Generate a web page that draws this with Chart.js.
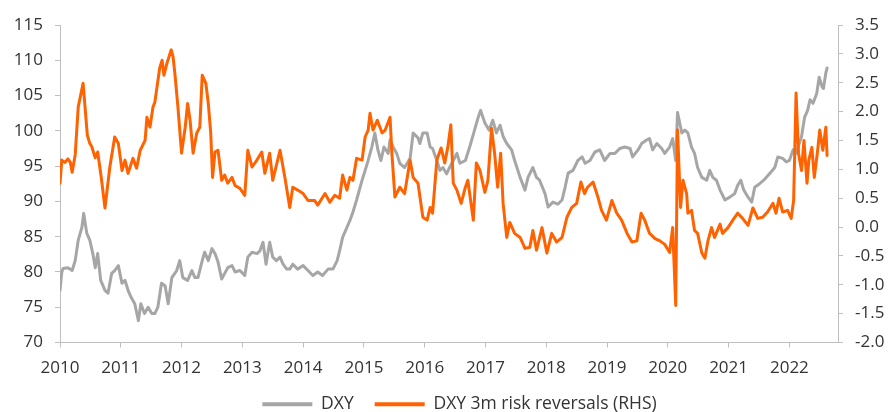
<!DOCTYPE html>
<html lang="en">
<head>
<meta charset="UTF-8">
<title>DXY and 3m risk reversals</title>
<script src="https://cdn.jsdelivr.net/npm/chart.js"></script>
<style>
  body { margin: 0; background: #fff; }
</style>
</head>
<body>
<canvas id="chart" width="889" height="412"></canvas>
<script>
// DXY index, left axis (dates as decimal years)
const dxyDates = [
  2010.00, 2010.03, 2010.05, 2010.13, 2010.20, 2010.25, 2010.30, 2010.36, 2010.39, 2010.44,
  2010.49, 2010.54, 2010.58, 2010.62, 2010.67, 2010.74, 2010.79, 2010.85, 2010.90, 2010.96,
  2011.02, 2011.07, 2011.12, 2011.17, 2011.23, 2011.29, 2011.33, 2011.39, 2011.45, 2011.51,
  2011.56, 2011.61, 2011.67, 2011.73, 2011.78, 2011.84, 2011.92, 2011.97, 2012.02, 2012.10,
  2012.17, 2012.22, 2012.27, 2012.34, 2012.38, 2012.44, 2012.50, 2012.55, 2012.60, 2012.66,
  2012.71, 2012.76, 2012.83, 2012.88, 2012.96, 2013.04, 2013.09, 2013.16, 2013.24, 2013.29,
  2013.34, 2013.39, 2013.45, 2013.50, 2013.56, 2013.62, 2013.67, 2013.73, 2013.78, 2013.83,
  2013.91, 2014.00, 2014.08, 2014.16, 2014.24, 2014.32, 2014.41, 2014.49, 2014.56, 2014.60,
  2014.65, 2014.72, 2014.77, 2014.82, 2014.88, 2014.97, 2015.02, 2015.07, 2015.13, 2015.18,
  2015.23, 2015.28, 2015.33, 2015.40, 2015.43, 2015.48, 2015.54, 2015.59, 2015.67, 2015.76,
  2015.81, 2015.89, 2015.92, 2015.97, 2016.04, 2016.09, 2016.13, 2016.20, 2016.25, 2016.30,
  2016.36, 2016.41, 2016.47, 2016.53, 2016.58, 2016.67, 2016.74, 2016.82, 2016.88, 2016.92,
  2016.99, 2017.06, 2017.12, 2017.18, 2017.24, 2017.29, 2017.35, 2017.43, 2017.48, 2017.57,
  2017.65, 2017.70, 2017.78, 2017.84, 2017.89, 2017.98, 2018.03, 2018.11, 2018.19, 2018.26,
  2018.31, 2018.36, 2018.44, 2018.52, 2018.59, 2018.64, 2018.72, 2018.80, 2018.88, 2018.96,
  2019.05, 2019.13, 2019.21, 2019.29, 2019.38, 2019.42, 2019.51, 2019.57, 2019.65, 2019.70,
  2019.75, 2019.82, 2019.90, 2019.95, 2020.03, 2020.08, 2020.13, 2020.16, 2020.23, 2020.28,
  2020.33, 2020.39, 2020.44, 2020.49, 2020.56, 2020.64, 2020.69, 2020.74, 2020.80, 2020.86,
  2020.94, 2021.02, 2021.10, 2021.15, 2021.20, 2021.25, 2021.32, 2021.38, 2021.43, 2021.51,
  2021.60, 2021.68, 2021.76, 2021.81, 2021.89, 2021.95, 2022.00, 2022.06, 2022.11, 2022.20,
  2022.25, 2022.30, 2022.34, 2022.39, 2022.45, 2022.49, 2022.54, 2022.56, 2022.60, 2022.62
];
const dxyValues = [
  77.4, 80.0, 80.5, 80.6, 80.2, 81.6, 84.5, 86.3, 88.3, 85.5,
  84.5, 82.6, 80.6, 82.6, 78.8, 77.4, 77.0, 79.8, 80.2, 80.9,
  78.4, 78.8, 77.4, 76.4, 75.5, 73.1, 75.5, 74.1, 75.0, 74.1,
  74.1, 75.0, 78.4, 78.0, 75.5, 79.2, 80.2, 81.6, 79.2, 78.8,
  80.2, 79.2, 79.2, 81.6, 82.8, 81.6, 83.3, 82.6, 81.4, 79.0,
  79.8, 80.6, 80.9, 80.0, 80.2, 79.5, 82.1, 82.8, 82.6, 83.0,
  84.2, 81.1, 84.2, 82.1, 81.6, 82.1, 81.1, 80.4, 80.4, 81.1,
  80.4, 80.9, 80.2, 79.5, 80.0, 79.5, 80.4, 80.4, 81.6, 83.0,
  84.9, 86.3, 87.3, 88.5, 90.2, 93.0, 94.4, 95.8, 97.7, 99.7,
  97.3, 95.8, 97.7, 96.8, 98.7, 97.7, 96.8, 95.4, 94.8, 96.1,
  99.7, 99.0, 98.2, 99.7, 99.7, 97.7, 97.5, 95.8, 94.4, 94.8,
  93.9, 94.8, 95.8, 96.8, 95.4, 95.8, 97.7, 100.1, 101.9, 102.9,
  101.1, 100.1, 101.5, 99.7, 100.8, 99.2, 98.2, 97.3, 95.8, 93.4,
  91.6, 93.4, 94.8, 93.4, 93.0, 91.1, 89.2, 89.9, 89.6, 90.2,
  92.0, 94.0, 94.4, 95.8, 96.3, 95.4, 95.8, 97.0, 97.3, 95.8,
  96.8, 96.8, 97.5, 97.7, 97.5, 96.3, 97.3, 98.2, 98.7, 98.9,
  97.3, 98.2, 97.5, 96.8, 97.7, 98.9, 95.8, 102.6, 99.7, 100.1,
  99.7, 97.7, 96.8, 94.8, 93.4, 93.0, 94.4, 93.4, 93.0, 91.6,
  90.2, 90.6, 91.1, 92.3, 93.0, 91.6, 90.6, 89.9, 92.0, 92.5,
  93.2, 94.0, 94.8, 96.3, 96.1, 95.6, 95.8, 97.3, 96.8, 99.2,
  101.9, 102.9, 104.4, 103.9, 105.3, 107.6, 106.2, 106.0, 108.2, 108.9
];

// DXY 3m risk reversals, right axis
const rrDates = [
  2010.00, 2010.03, 2010.08, 2010.13, 2010.17, 2010.20, 2010.25, 2010.30, 2010.38, 2010.45,
  2010.49, 2010.52, 2010.58, 2010.62, 2010.68, 2010.74, 2010.82, 2010.90, 2010.96, 2011.02,
  2011.07, 2011.12, 2011.20, 2011.26, 2011.32, 2011.40, 2011.43, 2011.48, 2011.53, 2011.56,
  2011.64, 2011.68, 2011.71, 2011.76, 2011.83, 2011.86, 2011.89, 2011.94, 2012.00, 2012.06,
  2012.10, 2012.14, 2012.19, 2012.25, 2012.30, 2012.34, 2012.40, 2012.44, 2012.48, 2012.51,
  2012.55, 2012.60, 2012.66, 2012.71, 2012.76, 2012.83, 2012.88, 2012.96, 2013.04, 2013.09,
  2013.16, 2013.24, 2013.32, 2013.37, 2013.45, 2013.50, 2013.62, 2013.70, 2013.78, 2013.83,
  2013.91, 2014.00, 2014.08, 2014.19, 2014.24, 2014.36, 2014.44, 2014.52, 2014.60, 2014.65,
  2014.72, 2014.77, 2014.82, 2014.88, 2014.97, 2015.02, 2015.07, 2015.10, 2015.15, 2015.22,
  2015.30, 2015.35, 2015.43, 2015.46, 2015.51, 2015.59, 2015.67, 2015.76, 2015.81, 2015.89,
  2015.97, 2016.04, 2016.09, 2016.13, 2016.20, 2016.27, 2016.33, 2016.38, 2016.43, 2016.47,
  2016.53, 2016.60, 2016.67, 2016.71, 2016.80, 2016.85, 2016.91, 2016.99, 2017.04, 2017.10,
  2017.15, 2017.20, 2017.25, 2017.29, 2017.35, 2017.40, 2017.48, 2017.57, 2017.65, 2017.73,
  2017.78, 2017.84, 2017.93, 2018.01, 2018.09, 2018.17, 2018.26, 2018.34, 2018.42, 2018.50,
  2018.57, 2018.63, 2018.68, 2018.77, 2018.85, 2018.91, 2018.99, 2019.08, 2019.16, 2019.24,
  2019.33, 2019.41, 2019.49, 2019.56, 2019.62, 2019.70, 2019.79, 2019.87, 2019.95, 2020.03,
  2020.08, 2020.13, 2020.16, 2020.21, 2020.25, 2020.31, 2020.33, 2020.39, 2020.44, 2020.49,
  2020.56, 2020.61, 2020.66, 2020.72, 2020.77, 2020.86, 2020.90, 2020.99, 2021.07, 2021.15,
  2021.23, 2021.32, 2021.40, 2021.48, 2021.56, 2021.64, 2021.73, 2021.78, 2021.83, 2021.89,
  2021.97, 2022.03, 2022.07, 2022.11, 2022.15, 2022.20, 2022.24, 2022.29, 2022.32, 2022.37,
  2022.41, 2022.46, 2022.50, 2022.55, 2022.60, 2022.62
];
const rrValues = [
  0.76, 1.16, 1.12, 1.18, 1.12, 0.95, 1.25, 2.08, 2.49, 1.59,
  1.45, 1.40, 1.20, 1.30, 0.85, 0.33, 1.04, 1.56, 1.45, 0.98,
  1.16, 0.93, 1.19, 1.02, 1.33, 1.50, 1.90, 1.73, 2.08, 2.16,
  2.75, 2.89, 2.63, 2.84, 3.07, 2.95, 2.66, 2.08, 1.28, 1.73,
  2.14, 1.85, 1.28, 1.63, 1.73, 2.63, 2.49, 2.14, 1.63, 0.86,
  1.30, 1.33, 0.81, 0.90, 0.76, 0.86, 0.72, 0.67, 0.55, 1.33,
  1.04, 1.16, 1.30, 0.93, 1.28, 0.81, 1.33, 0.86, 0.34, 0.69,
  0.64, 0.58, 0.46, 0.46, 0.38, 0.58, 0.43, 0.55, 0.50, 0.90,
  0.64, 0.86, 0.81, 1.19, 1.16, 1.56, 1.68, 1.97, 1.68, 1.85,
  1.63, 1.68, 1.90, 1.28, 0.52, 0.69, 0.58, 1.16, 0.86, 0.76,
  0.17, 0.12, 0.34, 0.24, 1.16, 1.37, 1.11, 1.38, 1.77, 0.76,
  0.64, 0.41, 0.69, 0.81, 0.12, 1.11, 0.98, 0.60, 0.81, 1.71,
  1.28, 0.69, 1.28, 0.41, -0.18, 0.08, -0.11, -0.18, -0.37, -0.35,
  -0.06, -0.40, -0.01, -0.45, -0.11, -0.26, -0.18, 0.17, 0.34, 0.41,
  0.78, 0.58, 0.69, 0.78, 0.52, 0.29, 0.12, 0.46, 0.24, 0.12,
  -0.11, -0.26, -0.24, 0.24, 0.12, -0.11, -0.20, -0.24, -0.30, -0.44,
  -0.01, -1.36, 1.68, 0.34, 0.81, 0.58, 0.24, 0.29, -0.06, -0.11,
  -0.45, -0.54, -0.24, -0.01, -0.18, 0.05, -0.11, -0.01, 0.12, 0.24,
  0.15, 0.03, 0.33, 0.15, 0.17, 0.26, 0.41, 0.24, 0.50, 0.26,
  0.29, 0.15, 0.46, 2.32, 1.28, 0.98, 1.50, 0.76, 1.16, 1.38,
  0.86, 1.28, 1.68, 1.33, 1.73, 1.24
];

const xStart = 2010;
const xEnd = 2022.8;

const GREY = '#a6a6a6';
const ORANGE = '#ff6200';
const AXIS = '#bfbfbf';
const TEXT = '#333333';

function toPoints(dates, values) {
  return dates.map((d, i) => ({ x: d, y: values[i] }));
}

Chart.defaults.font.family = "'Open Sans', sans-serif";
Chart.defaults.font.size = 17;
Chart.defaults.color = TEXT;

const axisGrid = {
  drawOnChartArea: false,
  drawTicks: true,
  tickLength: 5,
  color: AXIS,
  lineWidth: 1
};
const axisBorder = { display: true, color: AXIS, width: 1 };

// nudge the legend row a little to the right of centre
const legendShift = {
  id: 'legendShift',
  afterLayout(chart) {
    chart.legend.left += 30;
  }
};

new Chart(document.getElementById('chart'), {
  type: 'line',
  data: {
    datasets: [
      {
        label: 'DXY',
        data: toPoints(dxyDates, dxyValues),
        yAxisID: 'y',
        borderColor: GREY,
        backgroundColor: GREY,
        borderWidth: 3,
        order: 1
      },
      {
        label: 'DXY 3m risk reversals (RHS)',
        data: toPoints(rrDates, rrValues),
        yAxisID: 'y1',
        borderColor: ORANGE,
        backgroundColor: ORANGE,
        borderWidth: 3,
        order: 0
      }
    ]
  },
  plugins: [legendShift],
  options: {
    responsive: false,
    animation: false,
    layout: { padding: { top: 25, left: 0, right: 0, bottom: -11 } },
    elements: {
      point: { radius: 0 },
      line: { tension: 0, borderJoinStyle: 'round', borderCapStyle: 'round' }
    },
    plugins: {
      tooltip: { enabled: false },
      legend: {
        position: 'bottom',
        labels: {
          boxWidth: 50,
          boxHeight: 4,
          padding: 21,
          color: TEXT,
          font: { size: 17.5 },
          sort: (a, b) => a.datasetIndex - b.datasetIndex,
          generateLabels(chart) {
            const items = Chart.defaults.plugins.legend.labels.generateLabels(chart);
            items.forEach(it => { it.lineWidth = 0; });
            return items;
          }
        }
      }
    },
    scales: {
      x: {
        type: 'linear',
        min: xStart,
        max: xEnd,
        grid: axisGrid,
        border: axisBorder,
        ticks: {
          stepSize: 1,
          includeBounds: false,
          padding: 10,
          callback: v => String(v)
        },
        afterBuildTicks: s => { s.ticks = s.ticks.filter(t => Number.isInteger(t.value)); },
        afterFit: s => { s.height = 32; }
      },
      y: {
        position: 'left',
        min: 70,
        max: 115,
        grid: axisGrid,
        border: axisBorder,
        ticks: { stepSize: 5, padding: 12 },
        afterFit: s => { s.width = 60; }
      },
      y1: {
        position: 'right',
        min: -2,
        max: 3.5,
        grid: axisGrid,
        border: axisBorder,
        ticks: { stepSize: 0.5, padding: 12, callback: v => v.toFixed(1) },
        afterFit: s => { s.width = 51; }
      }
    }
  }
});
</script>
</body>
</html>
